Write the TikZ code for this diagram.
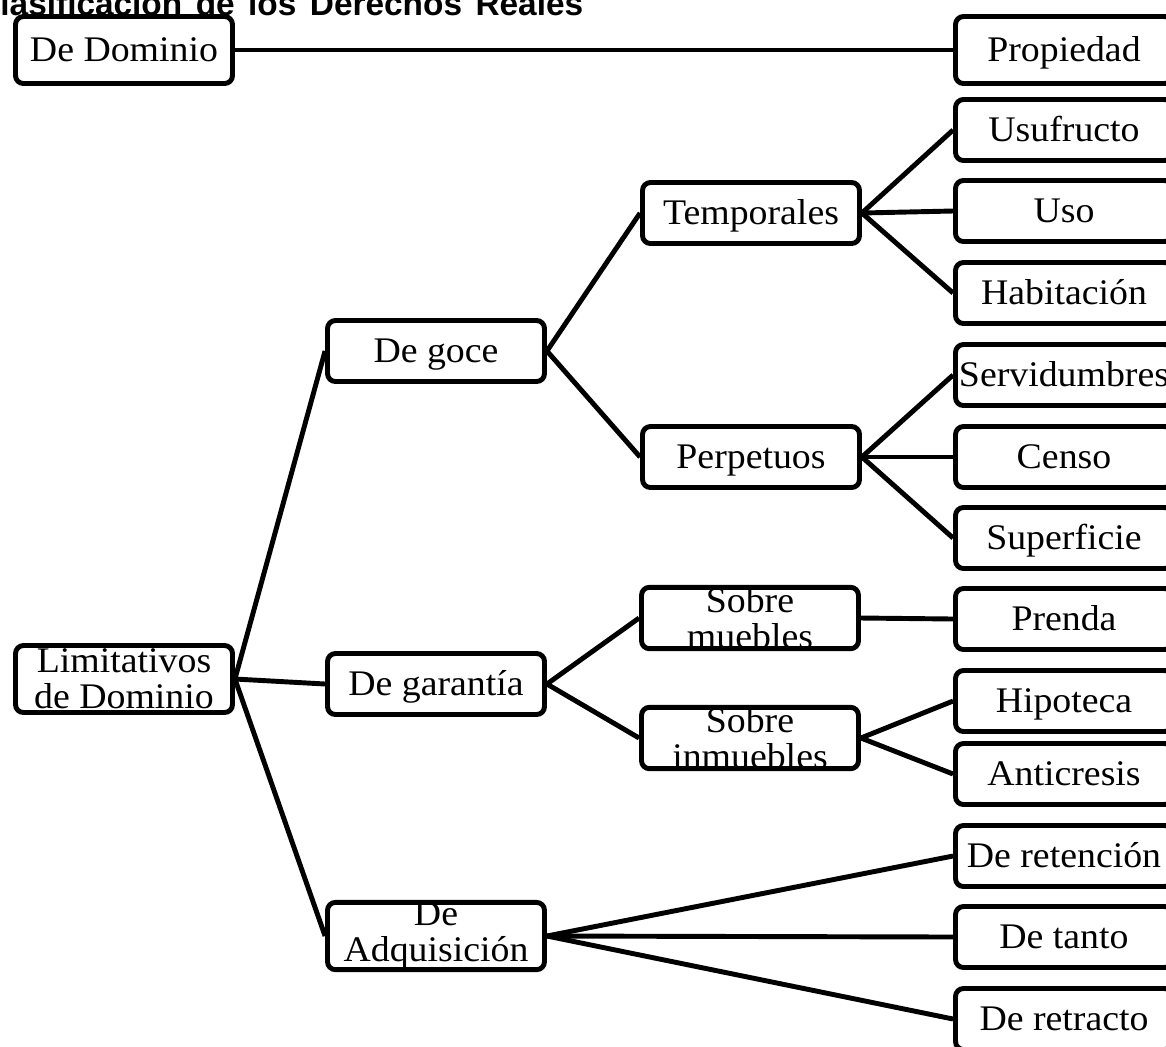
\documentclass[tikz,border=0pt]{standalone}
\usepackage{fontspec}
\setmainfont{Liberation Serif}[FakeStretch=1.05]
\setsansfont{Liberation Sans}
\begin{document}
\begin{tikzpicture}[x=0.02cm, y=-0.02cm,
    box/.style={draw, line width=2.8pt, rounded corners=4.5pt, fill=white,
        minimum width=4.34cm, minimum height=1.22cm, inner sep=0pt,
        text height=16.8pt, text depth=4pt,
        align=center, font=\fontsize{20.5}{20.5}\selectfont},
    tall/.style={minimum height=1.34cm},
    two/.style={text height={}, text depth={}},
    link/.style={line width=2.8pt}]
    \useasboundingbox (0,0) rectangle (1166,1046);

    % Title (cut at the page edge)
    \node[anchor=base west, inner sep=0pt, font=\sffamily\bfseries\fontsize{19}{20}\selectfont]
        (titulo) at (-24,15) {\spaceskip=0.27cm Clasificación de los Derechos Reales};

    % Roots
    \node[box, tall] (dominio) at (124,50) {De Dominio};
    \node[box, tall, two] (limitativos) at (124,679) {Limitativos\\de Dominio};

    % First level
    \node[box] (goce) at (436,351) {De goce};
    \node[box] (garantia) at (436,684) {De garantía};
    \node[box, two] (adquisicion) at (436,936) {De\\Adquisición};

    % Second level
    \node[box] (temporales) at (751,213) {Temporales};
    \node[box] (perpetuos) at (751,457) {Perpetuos};
    \node[box, two] (muebles) at (750,618) {Sobre\\muebles};
    \node[box, two] (inmuebles) at (750,738) {Sobre\\inmuebles};

    % Leaves
    \node[box, tall] (propiedad) at (1064,50) {Propiedad};
    \node[box] (usufructo) at (1064,130) {Usufructo};
    \node[box] (uso) at (1064,211) {Uso};
    \node[box] (habitacion) at (1064,293) {Habitación};
    \node[box] (servidumbres) at (1064,375) {Servidumbres};
    \node[box] (censo) at (1064,457) {Censo};
    \node[box] (superficie) at (1064,538) {Superficie};
    \node[box] (prenda) at (1064,619) {Prenda};
    \node[box] (hipoteca) at (1064,701) {Hipoteca};
    \node[box] (anticresis) at (1064,774) {Anticresis};
    \node[box] (retencion) at (1064,856) {De retención};
    \node[box] (tanto) at (1064,937) {De tanto};
    \node[box] (retracto) at (1064,1019) {De retracto};

    % Connectors
    \draw[link] (dominio.east) -- (propiedad.west);
    \foreach \t in {goce, garantia, adquisicion}
        \draw[link] (limitativos.east) -- (\t.west);
    \draw[link] (goce.east) -- (temporales.west);
    \draw[link] (goce.east) -- (perpetuos.west);
    \draw[link] (garantia.east) -- (muebles.west);
    \draw[link] (garantia.east) -- (inmuebles.west);
    \foreach \t in {usufructo, uso, habitacion}
        \draw[link] (temporales.east) -- (\t.west);
    \foreach \t in {servidumbres, censo, superficie}
        \draw[link] (perpetuos.east) -- (\t.west);
    \draw[link] (muebles.east) -- (prenda.west);
    \draw[link] (inmuebles.east) -- (hipoteca.west);
    \draw[link] (inmuebles.east) -- (anticresis.west);
    \foreach \t in {retencion, tanto, retracto}
        \draw[link] (adquisicion.east) -- (\t.west);
\end{tikzpicture}
\end{document}
